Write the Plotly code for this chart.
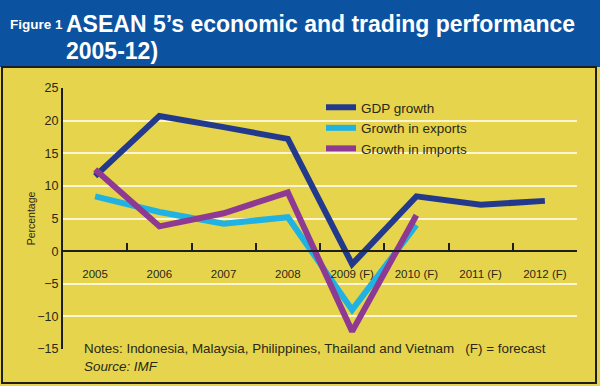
import plotly.graph_objects as go

years = ["2005", "2006", "2007", "2008", "2009 (F)", "2010 (F)", "2011 (F)", "2012 (F)"]
gdp_growth = [11.5, 20.7, 19.0, 17.2, -2.0, 8.4, 7.1, 7.7]
exports_growth = [8.4, 6.0, 4.2, 5.2, -9.0, 4.0]
imports_growth = [12.5, 3.8, 5.8, 9.0, -12.3, 5.5]
y_ticks = [-15, -10, -5, 0, 5, 10, 15, 20, 25]

W, H = 600, 386
L, R, T, B = 63, 577, 88, 349
pw, ph = R - L, B - T

def px(x):
    return (x - L) / pw

def py(y):
    return (B - y) / ph

SANS = "Liberation Sans, Arial, sans-serif"
YELLOW = "#e6d44c"
BLUE = "#0b52a0"
DARK = "#2a2818"

fig = go.Figure()
fig.add_trace(go.Scatter(x=years, y=gdp_growth, mode="lines", name="GDP growth",
                         line=dict(color="#233a8c", width=6)))
fig.add_trace(go.Scatter(x=years[:len(exports_growth)], y=exports_growth, mode="lines",
                         name="Growth in exports", line=dict(color="#1fb2e2", width=6)))
fig.add_trace(go.Scatter(x=years[:len(imports_growth)], y=imports_growth, mode="lines",
                         name="Growth in imports", line=dict(color="#8e3a92", width=6)))

shapes = [
    dict(type="rect", xref="paper", yref="paper", x0=px(0), x1=px(W), y0=py(67), y1=py(0),
         fillcolor=BLUE, line=dict(width=0), layer="below"),
    dict(type="rect", xref="paper", yref="paper", x0=px(2), x1=px(596), y0=py(383), y1=py(67),
         fillcolor="rgba(0,0,0,0)", line=dict(color="#1e1e1e", width=2), layer="below"),
]

annotations = [
    dict(text="<b>Figure 1</b>", xref="paper", yref="paper", x=px(8), y=py(25),
         xanchor="left", yanchor="middle", showarrow=False,
         font=dict(family=SANS, size=13.5, color="white")),
    dict(text="<b>ASEAN 5’s economic and trading performance</b>", xref="paper", yref="paper",
         x=px(64), y=py(24), xanchor="left", yanchor="middle", showarrow=False,
         font=dict(family=SANS, size=23, color="white")),
    dict(text="<b>2005-12)</b>", xref="paper", yref="paper",
         x=px(64), y=py(51), xanchor="left", yanchor="middle", showarrow=False,
         font=dict(family=SANS, size=23, color="white")),
    dict(text="Notes: Indonesia, Malaysia, Philippines, Thailand and Vietnam   (F) = forecast",
         xref="paper", yref="paper", x=px(82), y=py(348), xanchor="left", yanchor="middle",
         showarrow=False, font=dict(family=SANS, size=13.4, color=DARK)),
    dict(text="<i>Source: IMF</i>", xref="paper", yref="paper", x=px(82), y=py(366),
         xanchor="left", yanchor="middle", showarrow=False,
         font=dict(family=SANS, size=13.4, color=DARK)),
]

fig.update_layout(
    width=W, height=H,
    margin=dict(l=L, r=W - R, t=T, b=H - B),
    paper_bgcolor=YELLOW, plot_bgcolor=YELLOW,
    shapes=shapes, annotations=annotations,
    showlegend=True,
    legend=dict(x=px(321), y=py(92), xanchor="left", yanchor="top",
                bgcolor="rgba(0,0,0,0)", font=dict(family=SANS, size=13.5, color=DARK),
                tracegroupgap=0, itemwidth=30),
    xaxis=dict(type="category", range=[-0.5, 7.5], anchor="free", position=0.375,
               showline=True, linecolor="#1e1e1e", linewidth=2, automargin=False,
               ticks="inside", tickson="boundaries", ticklen=7, tickwidth=1.5,
               tickcolor="#1e1e1e", showgrid=False, ticklabelstandoff=12,
               tickfont=dict(family=SANS, size=11.5, color=DARK)),
    yaxis=dict(range=[-15, 25], tickvals=y_ticks, showgrid=True, gridcolor="#fbf5d6",
               gridwidth=2, zeroline=False, showline=True, linecolor="#1e1e1e",
               linewidth=2, ticks="", automargin=False,
               tickfont=dict(family=SANS, size=12.5, color=DARK),
               title=dict(text="Percentage", font=dict(family=SANS, size=10.5, color=DARK),
                          standoff=0)),
)

fig.write_html("out.html", config={"displayModeBar": False},
               post_script="document.body.style.margin='0';document.body.style.padding='0';")
